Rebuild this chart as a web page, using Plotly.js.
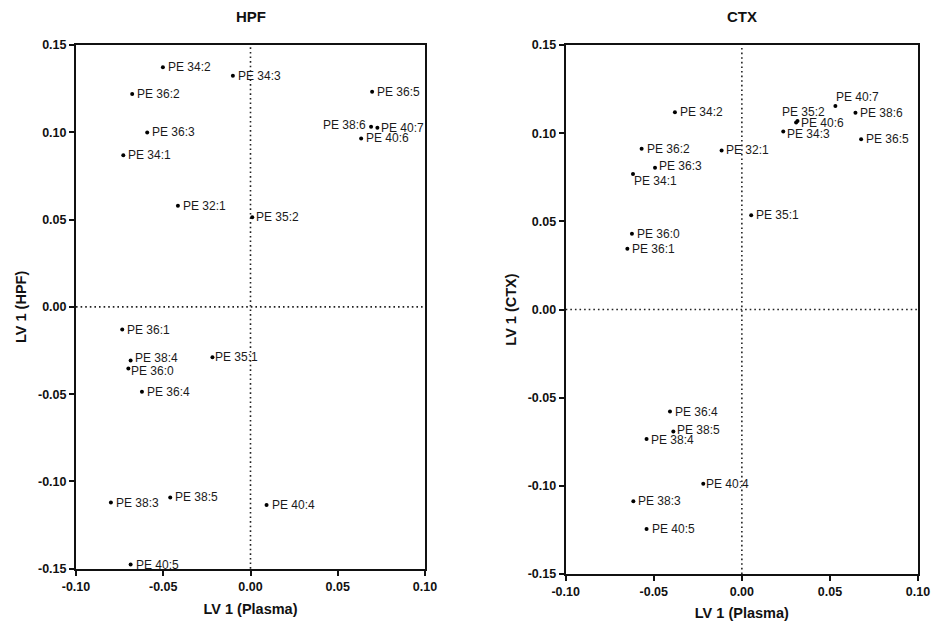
<!DOCTYPE html>
<html>
<head>
<meta charset="utf-8">
<script src="https://cdn.plot.ly/plotly-3.0.1.min.js"></script>
<style>html,body{margin:0;padding:0;background:#fff;}#chart{width:936px;height:621px;}</style>
</head>
<body>
<div id="chart"></div>
<script>
// ---- Data: HPF panel ----
var hpfLabels = ["PE 34:2","PE 34:3","PE 36:2","PE 36:5","PE 38:6","PE 40:7","PE 40:6","PE 36:3","PE 34:1","PE 32:1","PE 35:2",
                 "PE 36:1","PE 38:4","PE 36:0","PE 36:4","PE 35:1","PE 38:3","PE 38:5","PE 40:4","PE 40:5"];
var hpfX = [-0.0502,-0.0101,-0.0678,0.0697,0.0691,0.0727,0.0634,-0.0592,-0.0729,-0.0416,0.0010,
            -0.0735,-0.0687,-0.0700,-0.0622,-0.0218,-0.0800,-0.0460,0.0092,-0.0687];
var hpfY = [0.1372,0.1324,0.1219,0.1232,0.1031,0.1026,0.0965,0.0999,0.0868,0.0579,0.0514,
            -0.0130,-0.0307,-0.0353,-0.0487,-0.0288,-0.1121,-0.1092,-0.1135,-0.1476];

// ---- Data: CTX panel ----
var ctxLabels = ["PE 40:7","PE 38:6","PE 35:2","PE 40:6","PE 34:3","PE 36:5","PE 34:2","PE 36:2","PE 32:1","PE 36:3","PE 34:1",
                 "PE 35:1","PE 36:0","PE 36:1","PE 36:4","PE 38:5","PE 38:4","PE 40:4","PE 38:3","PE 40:5"];
var ctxX = [0.0531,0.0645,0.0308,0.0316,0.0235,0.0677,-0.0380,-0.0569,-0.0115,-0.0493,-0.0618,
            0.0053,-0.0624,-0.0650,-0.0408,-0.0389,-0.0541,-0.0219,-0.0616,-0.0541];
var ctxY = [0.1154,0.1116,0.1061,0.1069,0.1010,0.0965,0.1118,0.0912,0.0902,0.0804,0.0768,
            0.0535,0.0429,0.0344,-0.0579,-0.0692,-0.0734,-0.0988,-0.1088,-0.1245];

// Tick values
var yTickVals = [-0.15,-0.10,-0.05,0.00,0.05,0.10,0.15];
var xTickVals = [-0.10,-0.05,0.00,0.05,0.10];

// Label placement tweaks (styling only): [anchor, xshift, yshift]
var hpfPlacement = {"PE 38:6":["right",-5,2],"PE 40:7":["left",4,0],"PE 38:4":["left",4,2],"PE 36:0":["left",3,-3],
                    "PE 35:1":["left",3,0],"PE 35:2":["left",4,0]};
var ctxPlacement = {"PE 40:7":["left",1,9],"PE 35:2":["left",-14,10],"PE 40:6":["left",3,-2],
                    "PE 34:3":["left",4,-3],"PE 34:1":["left",1,-7],"PE 36:3":["left",4,2],
                    "PE 38:5":["left",4,2],"PE 38:4":["left",4,-1],"PE 40:4":["left",3,0],
                    "PE 32:1":["left",4,0]};

var FONT = "Arial, 'Liberation Sans', sans-serif";
var labelFont = {family: FONT, size: 12, color: "#1a1a1a"};

function makeLabels(labels, xs, ys, xa, ya, map){
  return labels.map(function(l, i){
    var p = map[l] || ["left", 5, 0];
    return {text: l, x: xs[i], y: ys[i], xref: xa, yref: ya, showarrow: false,
            xanchor: p[0], yanchor: "middle", xshift: p[1], yshift: p[2], font: labelFont,
            borderpad: 0, borderwidth: 0};
  });
}

var traces = [
  {x: hpfX, y: hpfY, text: hpfLabels, mode: "markers", type: "scatter",
   marker: {color: "#000", size: 4}, xaxis: "x", yaxis: "y", hoverinfo: "text", cliponaxis: false},
  {x: ctxX, y: ctxY, text: ctxLabels, mode: "markers", type: "scatter",
   marker: {color: "#000", size: 4}, xaxis: "x2", yaxis: "y2", hoverinfo: "text", cliponaxis: false}
];

function fmt(v){ return v.toFixed(2); }
var axisFont = {family: FONT, size: 12.5, color: "#111", weight: "bold"};
var titleFont = {family: FONT, size: 14.5, color: "#111", weight: "bold"};

function xAxis(domain, anchor){
  return {domain: domain, anchor: anchor, range: [-0.10, 0.10], tickmode: "array",
    tickvals: xTickVals, ticktext: xTickVals.map(fmt),
    showgrid: false, zeroline: false, showline: true, mirror: true, linecolor: "#111", linewidth: 2,
    ticks: "outside", ticklen: 5, tickwidth: 2, tickcolor: "#111",
    tickfont: axisFont,
    title: {text: "LV 1 (Plasma)", font: titleFont, standoff: 11}};
}
function yAxis(domain, anchor, title){
  return {domain: domain, anchor: anchor, range: [-0.15, 0.15], tickmode: "array",
    tickvals: yTickVals, ticktext: yTickVals.map(fmt),
    showgrid: false, zeroline: false, showline: true, mirror: true, linecolor: "#111", linewidth: 2,
    ticks: "outside", ticklen: 5, tickwidth: 2, tickcolor: "#111",
    tickfont: axisFont,
    title: {text: title, font: titleFont, standoff: 8}};
}

var dotLine = {color: "#222", width: 1.6, dash: "1.6px,3px"};
var annotations = makeLabels(hpfLabels, hpfX, hpfY, "x", "y", hpfPlacement)
  .concat(makeLabels(ctxLabels, ctxX, ctxY, "x2", "y2", ctxPlacement));
annotations.push(
  {text: "HPF", xref: "x domain", yref: "paper", x: 0.5, y: 1.053, xanchor: "center", yanchor: "middle",
   showarrow: false, font: {family: FONT, size: 15, color: "#111", weight: "bold"}},
  {text: "CTX", xref: "x2 domain", yref: "paper", x: 0.5, y: 1.053, xanchor: "center", yanchor: "middle",
   showarrow: false, font: {family: FONT, size: 15, color: "#111", weight: "bold"}}
);

var layout = {
  width: 936, height: 621,
  margin: {l: 76, r: 18, t: 45, b: 47},
  paper_bgcolor: "#fff", plot_bgcolor: "#fff",
  showlegend: false,
  xaxis: xAxis([0, 0.4145], "y"),
  yaxis: yAxis([0.01, 1], "x", "LV 1 (HPF)"),
  xaxis2: xAxis([0.5816, 1], "y2"),
  yaxis2: yAxis([0, 1], "x2", "LV 1 (CTX)"),
  shapes: [
    {type: "line", xref: "x", yref: "y domain", x0: 0, x1: 0, y0: 0, y1: 1, line: dotLine, layer: "below"},
    {type: "line", xref: "x domain", yref: "y", x0: 0, x1: 1, y0: 0, y1: 0, line: dotLine, layer: "below"},
    {type: "line", xref: "x2", yref: "y2 domain", x0: 0, x1: 0, y0: 0, y1: 1, line: dotLine, layer: "below"},
    {type: "line", xref: "x2 domain", yref: "y2", x0: 0, x1: 1, y0: 0, y1: 0, line: dotLine, layer: "below"}
  ],
  annotations: annotations
};

Plotly.newPlot("chart", traces, layout, {displayModeBar: false, staticPlot: true});
</script>
</body>
</html>
